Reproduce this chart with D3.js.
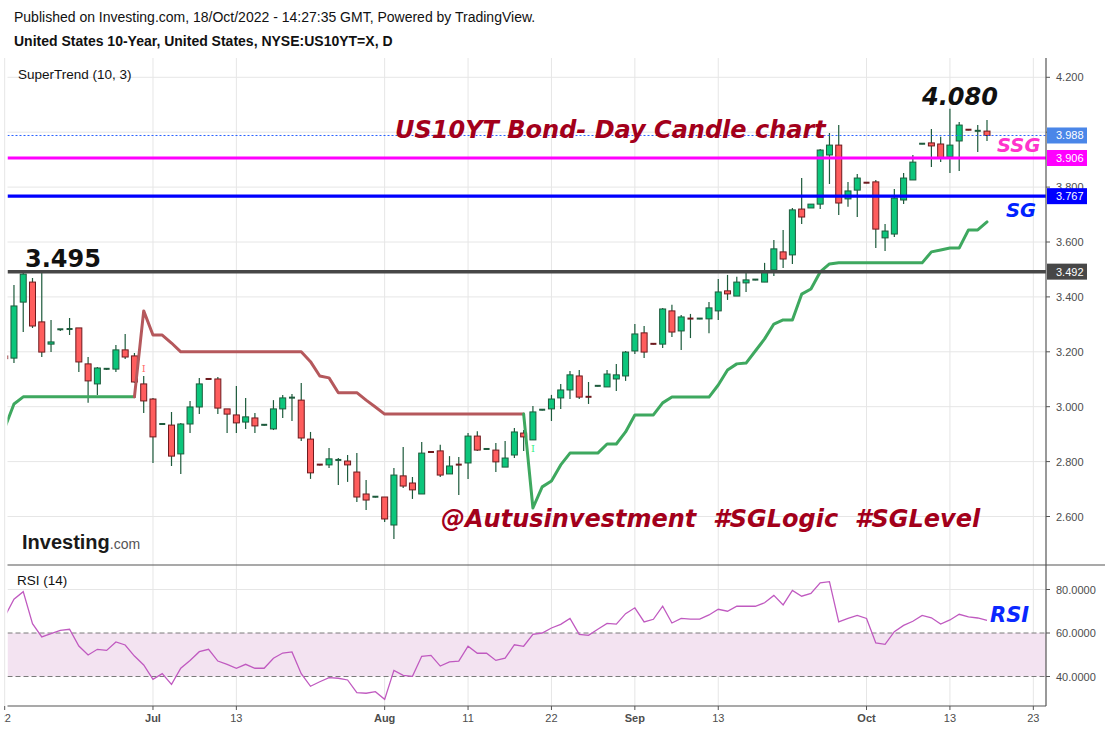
<!DOCTYPE html>
<meta charset="utf-8">
<html>
  <head>
    <style>
      body { margin: 0; background: #fff; }
      text.hdr { font-family: "Liberation Sans", Arial, sans-serif; font-size: 14px; fill: #111; }
      text.pane { font-family: "Liberation Sans", Arial, sans-serif; font-size: 13.5px; fill: #111; }
      text.axis-lbl { font-family: "Liberation Sans", Arial, sans-serif; font-size: 11px; fill: #4d4d4d; }
      text.big { font-family: "DejaVu Sans", Verdana, sans-serif; font-weight: bold; }
    </style>
    <script src="https://cdnjs.cloudflare.com/ajax/libs/d3/7.8.5/d3.min.js"></script>
  </head>
  <body>
    <div id="chart"></div>
    <script>
    // time axis: bar index of each label
    var tickIdx = [0, 16, 25, 41, 50, 59, 68, 77, 93, 102, 111];
    var tickLabels = ["22", "Jul", "13", "Aug", "11", "22", "Sep", "13", "Oct", "13", "23"];
    var tickBold = [false, true, false, true, false, false, true, false, true, false, false];
    var priceTicks = [2.6, 2.8, 3.0, 3.2, 3.4, 3.6, 3.8, 4.0, 4.2];
    // 4.000 sits under the last-price box, so it is not labelled
    var priceLabelTicks = [2.6, 2.8, 3.0, 3.2, 3.4, 3.6, 3.8, 4.2];
    var rsiTicks = [40, 60, 80];

    // daily candles, 22 Jun .. 18 Oct 2022
    var opens = [3.185,3.177,3.381,3.454,3.309,3.228,3.280,3.276,3.287,3.156,
                 3.083,3.137,3.137,3.207,3.185,3.083,3.028,2.933,2.933,2.828,
                 2.937,2.999,3.101,3.101,2.992,2.970,2.944,2.959,2.933,2.919,
                 2.992,3.030,3.024,2.882,2.789,2.788,2.805,2.802,2.762,2.682,
                 2.670,2.671,2.569,2.748,2.722,2.682,2.835,2.839,2.755,2.789,
                 2.795,2.893,2.844,2.842,2.780,2.824,2.904,2.879,2.987,2.992,
                 3.032,3.061,3.112,3.036,3.074,3.072,3.101,3.112,3.203,3.269,
                 3.229,3.228,3.349,3.276,3.321,3.319,3.320,3.349,3.422,3.403,
                 3.451,3.461,3.454,3.498,3.564,3.553,3.720,3.724,3.738,3.917,
                 3.953,3.757,3.789,3.816,3.819,3.615,3.629,3.753,3.826,3.956,
                 3.961,3.957,3.910,3.968,4.009,4.003,4.004];
    var highs = [3.190,3.443,3.491,3.469,3.498,3.316,3.283,3.323,3.287,3.181,
                 3.145,3.141,3.225,3.265,3.196,3.112,3.032,2.937,2.981,2.941,
                 3.021,3.105,3.101,3.108,2.992,3.075,3.032,2.977,2.935,3.024,
                 3.043,3.046,3.086,2.908,2.789,2.850,2.813,2.824,2.831,2.733,
                 2.673,2.671,2.777,2.853,2.744,2.871,2.835,2.861,2.820,2.817,
                 2.904,2.911,2.847,2.868,2.875,2.922,2.915,3.003,2.990,3.043,
                 3.083,3.130,3.134,3.090,3.076,3.134,3.156,3.203,3.301,3.294,
                 3.229,3.360,3.371,3.334,3.338,3.321,3.381,3.465,3.480,3.473,
                 3.494,3.463,3.524,3.607,3.644,3.724,3.833,3.738,3.939,3.997,
                 4.026,3.819,3.848,3.816,3.826,3.666,3.793,3.851,3.917,3.958,
                 4.012,3.983,4.085,4.037,4.009,4.026,4.044];
    var lows = [3.170,3.159,3.272,3.287,3.181,3.199,3.276,3.261,3.126,3.014,
                3.043,3.134,3.126,3.174,3.086,2.977,2.795,2.933,2.784,2.755,
                2.904,2.973,3.097,2.973,2.904,2.904,2.919,2.904,2.931,2.915,
                2.959,2.948,2.875,2.737,2.786,2.777,2.715,2.726,2.653,2.624,
                2.669,2.580,2.518,2.704,2.664,2.682,2.833,2.744,2.755,2.678,
                2.737,2.839,2.843,2.762,2.780,2.813,2.839,2.879,2.986,2.948,
                2.992,3.028,3.028,3.010,3.074,3.072,3.057,3.094,3.192,3.177,
                3.227,3.214,3.254,3.207,3.250,3.319,3.268,3.316,3.389,3.403,
                3.418,3.461,3.454,3.476,3.505,3.520,3.666,3.724,3.720,3.811,
                3.698,3.728,3.691,3.814,3.578,3.567,3.618,3.738,3.826,3.956,
                3.873,3.891,3.851,3.859,4.007,3.928,3.968];
    var closes = [3.175,3.367,3.483,3.294,3.199,3.236,3.282,3.283,3.163,3.094,
                  3.141,3.138,3.207,3.181,3.090,3.021,2.890,2.937,2.820,2.937,
                  2.999,3.083,3.097,2.995,2.973,2.941,2.963,2.930,2.934,2.992,
                  3.032,3.033,2.886,2.759,2.786,2.810,2.806,2.788,2.671,2.660,
                  2.672,2.591,2.751,2.711,2.697,2.831,2.833,2.751,2.784,2.786,
                  2.893,2.842,2.846,2.799,2.813,2.908,2.890,2.981,2.989,3.028,
                  3.061,3.116,3.035,3.034,3.076,3.119,3.116,3.199,3.265,3.199,
                  3.227,3.356,3.272,3.327,3.319,3.321,3.360,3.418,3.411,3.454,
                  3.462,3.463,3.494,3.575,3.538,3.717,3.691,3.738,3.935,3.953,
                  3.742,3.786,3.833,3.814,3.647,3.640,3.760,3.833,3.891,3.958,
                  3.950,3.906,3.953,4.026,4.007,4.005,3.988];

    // SuperTrend (10, 3)
    var stValues = [2.922,3.010,3.036,3.036,3.036,3.036,3.036,3.036,3.036,3.036,
                    3.036,3.036,3.036,3.036,3.036,3.349,3.261,3.261,3.232,3.200,
                    3.200,3.200,3.200,3.200,3.200,3.200,3.200,3.200,3.200,3.200,
                    3.200,3.200,3.200,3.164,3.112,3.105,3.051,3.051,3.051,3.024,
                    2.999,2.973,2.973,2.973,2.973,2.973,2.973,2.973,2.973,2.973,
                    2.973,2.973,2.973,2.973,2.973,2.973,2.973,2.631,2.708,2.729,
                    2.788,2.831,2.831,2.831,2.831,2.864,2.864,2.908,2.970,2.970,
                    2.970,3.014,3.035,3.035,3.035,3.035,3.035,3.079,3.134,3.156,
                    3.159,3.203,3.247,3.301,3.316,3.316,3.410,3.429,3.491,3.520,
                    3.524,3.524,3.524,3.524,3.524,3.524,3.524,3.524,3.524,3.524,
                    3.564,3.571,3.578,3.578,3.644,3.644,3.673];
    var stFirstDir = 1;
    var stFlipIdx = [15, 57];

    // RSI (14)
    var rsiValues = [67.5,75.5,79.0,64.3,58.2,59.7,61.2,61.7,54.0,49.9,
                     52.5,52.0,55.9,54.5,49.4,45.3,38.7,41.3,36.4,43.8,
                     47.4,51.4,52.5,47.1,45.6,43.8,45.6,43.8,43.8,48.4,
                     50.8,51.3,41.3,35.5,37.6,39.5,39.2,38.4,32.6,32.3,
                     33.0,29.5,42.8,40.5,40.1,49.3,49.7,44.8,46.7,47.1,
                     53.9,50.7,50.7,47.4,48.4,54.6,53.9,59.4,60.0,62.3,
                     64.0,66.7,59.4,58.9,61.7,64.4,64.1,68.9,71.6,65.1,
                     66.3,72.3,64.6,66.7,66.4,66.4,68.3,70.9,70.0,72.3,
                     72.3,72.3,73.9,77.3,72.9,79.6,76.9,78.2,83.1,83.6,
                     65.1,66.7,68.1,66.7,55.4,54.8,60.6,63.5,65.4,68.1,
                     67.0,64.1,66.0,68.6,67.4,66.9,65.8];

    // drawn levels
    var levelValues = [3.492, 3.767, 3.906];
    var levelColors = ["#474747", "#0000ff", "#ff00ff"];
    var lastPrice = 3.988;

    var W = 1105, H = 730;
    var plotL = 7.5, plotR = 1046, mainTop = 58, mainBot = 565, rsiBot = 706;

    var svg = d3.select("#chart").append("svg")
        .attr("width", W)
        .attr("height", H);

    var x = d3.scaleLinear().domain([0, 106]).range([4.7, 987]);
    var y = d3.scaleLinear().domain([3.0, 4.2]).range([406.7, 77.3]);
    var yR = d3.scaleLinear().domain([40, 80]).range([676.5, 589.5]);

    var defs = svg.append("defs");
    defs.append("clipPath").attr("id", "clipMain").append("rect")
        .attr("x", plotL).attr("y", mainTop).attr("width", plotR - plotL).attr("height", mainBot - mainTop);
    defs.append("clipPath").attr("id", "clipRsi").append("rect")
        .attr("x", plotL).attr("y", mainBot).attr("width", plotR - plotL).attr("height", rsiBot - mainBot);
    defs.append("clipPath").attr("id", "clipTime").append("rect")
        .attr("x", 4).attr("y", rsiBot).attr("width", W).attr("height", H - rsiBot);

    // header
    svg.append("text").attr("class", "hdr").attr("x", 14).attr("y", 22)
        .text("Published on Investing.com, 18/Oct/2022 - 14:27:35 GMT, Powered by TradingView.");
    svg.append("text").attr("class", "hdr").attr("x", 14).attr("y", 46).style("font-weight", "bold")
        .text("United States 10-Year, United States, NYSE:US10YT=X, D");

    // grid
    var grid = svg.append("g");
    grid.selectAll(".hgrid").data(priceTicks).enter().append("line")
        .attr("x1", plotL).attr("x2", plotR)
        .attr("y1", function(d) { return y(d); }).attr("y2", function(d) { return y(d); })
        .attr("stroke", "#e6e6e6").attr("stroke-width", 1);
    grid.selectAll(".vgrid").data(tickIdx).enter().append("line")
        .attr("x1", function(d) { return x(d); }).attr("x2", function(d) { return x(d); })
        .attr("y1", mainTop).attr("y2", rsiBot)
        .attr("stroke", "#e6e6e6").attr("stroke-width", 1);

    svg.append("text").attr("class", "pane").attr("x", 18).attr("y", 79).text("SuperTrend (10, 3)");

    // watermark logo
    var logo = svg.append("text").attr("x", 22).attr("y", 549);
    logo.append("tspan").text("Investing")
        .style("font-family", "'Liberation Sans', Arial, sans-serif").style("font-weight", "bold")
        .style("font-size", "20px").style("fill", "#1a1a1a");
    logo.append("tspan").text(".com")
        .style("font-family", "'Liberation Sans', Arial, sans-serif")
        .style("font-size", "14px").style("fill", "#555");

    // candles
    var candles = svg.append("g").attr("clip-path", "url(#clipMain)");
    var bars = candles.selectAll(".bar").data(d3.range(opens.length)).enter().append("g");
    bars.append("line")
        .attr("x1", function(i) { return x(i); }).attr("x2", function(i) { return x(i); })
        .attr("y1", function(i) { return y(highs[i]); }).attr("y2", function(i) { return y(lows[i]); })
        .attr("stroke", "#1d5b3c").attr("stroke-width", 1.2);
    bars.append("rect")
        .attr("x", function(i) { return x(i) - 3; })
        .attr("width", 6)
        .attr("y", function(i) {
            var t = y(Math.max(opens[i], closes[i]));
            var h = Math.abs(y(opens[i]) - y(closes[i]));
            return h < 2 ? t - 1 : t;
        })
        .attr("height", function(i) {
            var h = Math.abs(y(opens[i]) - y(closes[i]));
            return h < 2 ? 2 : h;
        })
        .attr("fill", function(i) {
            var h = Math.abs(y(opens[i]) - y(closes[i]));
            if (h < 2) return closes[i] >= opens[i] ? "#1d5b3c" : "#6e1a1e";
            return closes[i] >= opens[i] ? "#0cc67c" : "#ff5d5d";
        })
        .attr("stroke", function(i) { return closes[i] >= opens[i] ? "#1d5b3c" : "#6e1a1e"; })
        .attr("stroke-width", function(i) {
            return Math.abs(y(opens[i]) - y(closes[i])) < 2 ? 0 : 1;
        });

    // supertrend
    var stDir = stValues.map(function(v, i) {
        var n = stFlipIdx.filter(function(f) { return f <= i; }).length;
        return n % 2 === 0 ? stFirstDir : -stFirstDir;
    });
    var runs = [];
    stValues.forEach(function(v, i) {
        if (i === 0) { runs.push({ dir: stDir[0], pts: [0] }); return; }
        var last = runs[runs.length - 1];
        if (stDir[i] === last.dir) last.pts.push(i);
        else runs.push({ dir: stDir[i], pts: [i - 1, i] });
    });
    var stLine = d3.line().x(function(i) { return x(i); }).y(function(i) { return y(stValues[i]); });
    var stG = svg.append("g").attr("clip-path", "url(#clipMain)");
    stG.selectAll(".st").data(runs).enter().append("path")
        .attr("d", function(r) { return stLine(r.pts); })
        .attr("fill", "none")
        .attr("stroke", function(r) { return r.dir > 0 ? "#3ea85f" : "#b5585c"; })
        .attr("stroke-width", 3)
        .attr("stroke-linejoin", "round")
        .attr("stroke-linecap", "round");
    stG.selectAll(".sig").data(stFlipIdx).enter().append("text")
        .attr("x", function(i) { return x(i); })
        .attr("y", function(i) { return stDir[i] > 0 ? y(lows[i]) + 12 : y(highs[i]) - 4; })
        .attr("text-anchor", "middle")
        .style("font-family", "'DejaVu Serif', serif").style("font-size", "10px")
        .style("fill", function(i) { return stDir[i] > 0 ? "#3cf08c" : "#ff6b6b"; })
        .text("I");

    // level lines
    var lv = svg.append("g").attr("clip-path", "url(#clipMain)");
    lv.append("line")
        .attr("x1", plotL).attr("x2", plotR)
        .attr("y1", y(lastPrice)).attr("y2", y(lastPrice))
        .attr("stroke", "#2962ff").attr("stroke-width", 1).attr("stroke-dasharray", "2,2");
    lv.selectAll(".lvl").data(levelValues).enter().append("line")
        .attr("x1", plotL).attr("x2", plotR)
        .attr("y1", function(d) { return y(d); }).attr("y2", function(d) { return y(d); })
        .attr("stroke", function(d, i) { return levelColors[i]; })
        .attr("stroke-width", function(d, i) { return i === 0 ? 3.5 : 3.2; });

    // rsi pane
    var rsiG = svg.append("g").attr("clip-path", "url(#clipRsi)");
    rsiG.append("rect")
        .attr("x", plotL).attr("width", plotR - plotL)
        .attr("y", yR(60)).attr("height", yR(40) - yR(60))
        .attr("fill", "#f3e3f1");
    rsiG.append("line").attr("x1", plotL).attr("x2", plotR).attr("y1", yR(80)).attr("y2", yR(80))
        .attr("stroke", "#e6e6e6");
    rsiG.selectAll(".band").data([60, 40]).enter().append("line")
        .attr("x1", plotL).attr("x2", plotR)
        .attr("y1", function(d) { return yR(d); }).attr("y2", function(d) { return yR(d); })
        .attr("stroke", "#7a7a7a").attr("stroke-dasharray", "5,3");
    rsiG.append("path")
        .attr("d", d3.line().x(function(d, i) { return x(i); }).y(function(d) { return yR(d); })(rsiValues))
        .attr("fill", "none").attr("stroke", "#c05ac0").attr("stroke-width", 1.3);
    svg.append("text").attr("class", "pane").attr("x", 17).attr("y", 585).text("RSI (14)");

    // frame
    svg.append("line").attr("x1", plotL).attr("x2", W).attr("y1", mainBot).attr("y2", mainBot)
        .attr("stroke", "#555").attr("stroke-width", 1.2);
    svg.append("line").attr("x1", plotL).attr("x2", plotR).attr("y1", rsiBot).attr("y2", rsiBot)
        .attr("stroke", "#555").attr("stroke-width", 1.2);
    svg.append("line").attr("x1", plotR).attr("x2", plotR).attr("y1", mainTop).attr("y2", rsiBot)
        .attr("stroke", "#555").attr("stroke-width", 1.2);

    // right price axis
    var pAx = svg.append("g");
    pAx.selectAll(".pt").data(priceTicks).enter().append("line")
        .attr("x1", plotR).attr("x2", plotR + 4)
        .attr("y1", function(d) { return y(d); }).attr("y2", function(d) { return y(d); })
        .attr("stroke", "#555");
    pAx.selectAll(".pl").data(priceLabelTicks).enter().append("text")
        .attr("class", "axis-lbl").attr("x", 1056)
        .attr("y", function(d) { return y(d) + 4; })
        .text(function(d) { return d3.format(".3f")(d); });
    pAx.selectAll(".rt").data(rsiTicks).enter().append("line")
        .attr("x1", plotR).attr("x2", plotR + 4)
        .attr("y1", function(d) { return yR(d); }).attr("y2", function(d) { return yR(d); })
        .attr("stroke", "#555");
    pAx.selectAll(".rl").data(rsiTicks).enter().append("text")
        .attr("class", "axis-lbl").attr("x", 1056)
        .attr("y", function(d) { return yR(d) + 4; })
        .text(function(d) { return d3.format(".4f")(d); });

    // price boxes on the axis
    var boxVals = [lastPrice].concat(levelValues);
    var boxCols = ["#4a86e8"].concat(levelColors);
    var boxes = svg.selectAll(".pbox").data(boxVals).enter().append("g");
    boxes.append("rect")
        .attr("x", plotR + 1).attr("width", 40)
        .attr("y", function(d) { return y(d) - 8; }).attr("height", 16)
        .attr("fill", function(d, i) { return boxCols[i]; });
    boxes.append("text")
        .attr("class", "axis-lbl").style("fill", "#fff")
        .attr("x", 1056).attr("y", function(d) { return y(d) + 4; })
        .text(function(d) { return d3.format(".3f")(d); });

    // time axis
    var tAx = svg.append("g").attr("clip-path", "url(#clipTime)");
    tAx.selectAll(".tt").data(tickIdx).enter().append("line")
        .attr("x1", function(d) { return x(d); }).attr("x2", function(d) { return x(d); })
        .attr("y1", rsiBot).attr("y2", rsiBot + 4)
        .attr("stroke", "#555");
    tAx.selectAll(".tl").data(tickIdx).enter().append("text")
        .attr("class", "axis-lbl")
        .attr("x", function(d) { return x(d); }).attr("y", 722)
        .attr("text-anchor", "middle")
        .style("font-weight", function(d, i) { return tickBold[i] ? "bold" : "normal"; })
        .text(function(d, i) { return tickLabels[i]; });

    // annotations
    function note(txt, px, py, size, color, italic) {
        svg.append("text").attr("class", "big")
            .attr("x", px).attr("y", py)
            .style("font-size", size + "px")
            .style("font-style", italic ? "italic" : "normal")
            .style("white-space", "pre")
            .style("fill", color)
            .text(txt);
    }
    note("3.495", 25, 267, 24, "#111", false);
    note("4.080", 922, 105, 24, "#111", true);
    note("US10YT Bond- Day Candle chart", 395, 138, 24, "#a3001b", true);
    note("@Autusinvestment  #SGLogic  #SGLevel", 441, 527, 24, "#a3001b", true);
    note("SSG", 997, 152, 19.5, "#ff33cc", true);
    note("SG", 1006, 217, 19.5, "#0022ff", true);
    note("RSI", 990, 622, 21, "#0a28ff", true);
    </script>
  </body>
</html>
